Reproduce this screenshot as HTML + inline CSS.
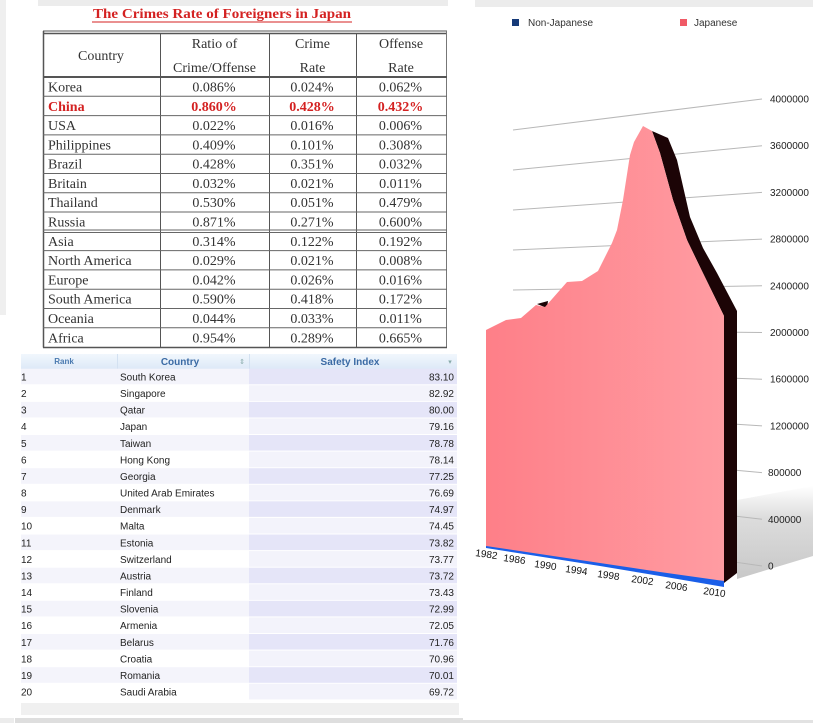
<!DOCTYPE html>
<html>
<head>
<meta charset="utf-8">
<style>
html,body{margin:0;padding:0;background:#fff;}
body{width:823px;height:723px;overflow:hidden;}
svg{display:block;}
.ser{font-family:"Liberation Serif",serif;}
.sans{font-family:"Liberation Sans",sans-serif;}
</style>
</head>
<body>
<svg width="823" height="723" viewBox="0 0 823 723" xmlns="http://www.w3.org/2000/svg">
<defs>
  <linearGradient id="pink" x1="0" y1="0" x2="1" y2="0">
    <stop offset="0" stop-color="#fe7f88"/>
    <stop offset="1" stop-color="#ff9ca2"/>
  </linearGradient>
  <linearGradient id="hdr" x1="0" y1="0" x2="0" y2="1">
    <stop offset="0" stop-color="#f1f7fd"/>
    <stop offset="1" stop-color="#dde9f7"/>
  </linearGradient>
  <linearGradient id="shadow" x1="0" y1="0" x2="0" y2="1">
    <stop offset="0" stop-color="#ffffff"/>
    <stop offset="0.35" stop-color="#dcdcdc"/>
    <stop offset="1" stop-color="#c8c8c8"/>
  </linearGradient>
</defs>

<!-- background panels -->
<rect x="0" y="0" width="6" height="315" fill="#efefef"/>
<rect x="38" y="0" width="410" height="6" fill="#ececec"/>
<rect x="475" y="0" width="338" height="7" fill="#ececec"/>

<!-- ============ Crime table ============ -->
<g class="ser">
  <text x="222" y="18" text-anchor="middle" font-size="14" font-weight="bold" fill="#d42222" textLength="258" lengthAdjust="spacingAndGlyphs">The Crimes Rate of Foreigners in Japan</text>
  <line x1="92" y1="22" x2="352" y2="22" stroke="#d42222" stroke-width="1"/>

  <!-- borders -->
  <line x1="43" y1="31" x2="447" y2="31" stroke="#555" stroke-width="1"/>
  <line x1="43" y1="33.5" x2="447" y2="33.5" stroke="#555" stroke-width="1.5"/>
  <line x1="43.5" y1="31" x2="43.5" y2="347.5" stroke="#555" stroke-width="1.5"/>
  <line x1="446.5" y1="31" x2="446.5" y2="347.5" stroke="#777" stroke-width="1"/>
  <line x1="43" y1="347.5" x2="447" y2="347.5" stroke="#555" stroke-width="1.5"/>
  <line x1="160.5" y1="33" x2="160.5" y2="347" stroke="#555" stroke-width="1"/>
  <line x1="269.5" y1="33" x2="269.5" y2="347" stroke="#555" stroke-width="1"/>
  <line x1="356.5" y1="33" x2="356.5" y2="347" stroke="#555" stroke-width="1"/>
  <line x1="43" y1="77" x2="447" y2="77" stroke="#555" stroke-width="2"/>
  <g stroke="#666" stroke-width="1">
    <line x1="43" y1="96.3" x2="447" y2="96.3"/>
    <line x1="43" y1="115.6" x2="447" y2="115.6"/>
    <line x1="43" y1="134.9" x2="447" y2="134.9"/>
    <line x1="43" y1="154.2" x2="447" y2="154.2"/>
    <line x1="43" y1="173.5" x2="447" y2="173.5"/>
    <line x1="43" y1="192.7" x2="447" y2="192.7"/>
    <line x1="43" y1="212.0" x2="447" y2="212.0"/>
    <line x1="43" y1="230.0" x2="447" y2="230.0"/>
    <line x1="43" y1="232.5" x2="447" y2="232.5"/>
    <line x1="43" y1="250.6" x2="447" y2="250.6"/>
    <line x1="43" y1="269.9" x2="447" y2="269.9"/>
    <line x1="43" y1="289.2" x2="447" y2="289.2"/>
    <line x1="43" y1="308.5" x2="447" y2="308.5"/>
    <line x1="43" y1="327.8" x2="447" y2="327.8"/>
  </g>

  <!-- header -->
  <g font-size="14" fill="#333" text-anchor="middle">
    <text x="101" y="60">Country</text>
    <text x="214.5" y="48">Ratio of</text>
    <text x="214.5" y="72">Crime/Offense</text>
    <text x="312.5" y="48">Crime</text>
    <text x="312.5" y="72">Rate</text>
    <text x="401" y="48">Offense</text>
    <text x="401" y="72">Rate</text>
  </g>

  <!-- rows -->
  <g font-size="14" fill="#333">
    <text x="48" y="91.5">Korea</text>
    <text x="48" y="110.8" fill="#d42222" font-weight="bold">China</text>
    <text x="48" y="130.1">USA</text>
    <text x="48" y="149.4">Philippines</text>
    <text x="48" y="168.7">Brazil</text>
    <text x="48" y="188.0">Britain</text>
    <text x="48" y="207.2">Thailand</text>
    <text x="48" y="226.5">Russia</text>
    <text x="48" y="245.8">Asia</text>
    <text x="48" y="265.1">North America</text>
    <text x="48" y="284.4">Europe</text>
    <text x="48" y="303.7">South America</text>
    <text x="48" y="323.0">Oceania</text>
    <text x="48" y="342.3">Africa</text>
  </g>
  <g font-size="14" fill="#333" text-anchor="middle">
    <text x="214" y="91.5">0.086%</text><text x="312" y="91.5">0.024%</text><text x="400.5" y="91.5">0.062%</text>
    <g fill="#d42222" font-weight="bold">
    <text x="214" y="110.8">0.860%</text><text x="312" y="110.8">0.428%</text><text x="400.5" y="110.8">0.432%</text>
    </g>
    <text x="214" y="130.1">0.022%</text><text x="312" y="130.1">0.016%</text><text x="400.5" y="130.1">0.006%</text>
    <text x="214" y="149.4">0.409%</text><text x="312" y="149.4">0.101%</text><text x="400.5" y="149.4">0.308%</text>
    <text x="214" y="168.7">0.428%</text><text x="312" y="168.7">0.351%</text><text x="400.5" y="168.7">0.032%</text>
    <text x="214" y="188.0">0.032%</text><text x="312" y="188.0">0.021%</text><text x="400.5" y="188.0">0.011%</text>
    <text x="214" y="207.2">0.530%</text><text x="312" y="207.2">0.051%</text><text x="400.5" y="207.2">0.479%</text>
    <text x="214" y="226.5">0.871%</text><text x="312" y="226.5">0.271%</text><text x="400.5" y="226.5">0.600%</text>
    <text x="214" y="245.8">0.314%</text><text x="312" y="245.8">0.122%</text><text x="400.5" y="245.8">0.192%</text>
    <text x="214" y="265.1">0.029%</text><text x="312" y="265.1">0.021%</text><text x="400.5" y="265.1">0.008%</text>
    <text x="214" y="284.4">0.042%</text><text x="312" y="284.4">0.026%</text><text x="400.5" y="284.4">0.016%</text>
    <text x="214" y="303.7">0.590%</text><text x="312" y="303.7">0.418%</text><text x="400.5" y="303.7">0.172%</text>
    <text x="214" y="323.0">0.044%</text><text x="312" y="323.0">0.033%</text><text x="400.5" y="323.0">0.011%</text>
    <text x="214" y="342.3">0.954%</text><text x="312" y="342.3">0.289%</text><text x="400.5" y="342.3">0.665%</text>
  </g>
</g>

<!-- ============ Safety table ============ -->
<g class="sans">
  <rect x="21" y="354" width="436" height="15" fill="url(#hdr)"/>
  <line x1="117.5" y1="354" x2="117.5" y2="369" stroke="#d3e1f1"/>
  <line x1="249.5" y1="354" x2="249.5" y2="369" stroke="#d3e1f1"/>
  <text x="64" y="364" text-anchor="middle" font-size="8" font-weight="bold" fill="#4a7ab0">Rank</text>
  <text x="180" y="365" text-anchor="middle" font-size="10" font-weight="bold" fill="#3a6aa4">Country</text>
  <text x="242" y="364" text-anchor="middle" font-size="7" fill="#8aa">&#8661;</text>
  <text x="350" y="365" text-anchor="middle" font-size="10" font-weight="bold" fill="#3a6aa4">Safety Index</text>
  <text x="450" y="364" text-anchor="middle" font-size="7" fill="#8aa">&#9662;</text>

  <!-- row backgrounds -->
  <g>
    <rect x="21" y="368.7" width="228" height="15.6" fill="#f4f4fb"/><rect x="249" y="368.7" width="208" height="15.6" fill="#e5e5f8"/>
    <rect x="249" y="385.3" width="208" height="15.6" fill="#f3f3fb"/>
    <rect x="21" y="401.9" width="228" height="15.6" fill="#f4f4fb"/><rect x="249" y="401.9" width="208" height="15.6" fill="#e5e5f8"/>
    <rect x="249" y="418.4" width="208" height="15.6" fill="#f3f3fb"/>
    <rect x="21" y="435.0" width="228" height="15.6" fill="#f4f4fb"/><rect x="249" y="435.0" width="208" height="15.6" fill="#e5e5f8"/>
    <rect x="249" y="451.6" width="208" height="15.6" fill="#f3f3fb"/>
    <rect x="21" y="468.2" width="228" height="15.6" fill="#f4f4fb"/><rect x="249" y="468.2" width="208" height="15.6" fill="#e5e5f8"/>
    <rect x="249" y="484.8" width="208" height="15.6" fill="#f3f3fb"/>
    <rect x="21" y="501.3" width="228" height="15.6" fill="#f4f4fb"/><rect x="249" y="501.3" width="208" height="15.6" fill="#e5e5f8"/>
    <rect x="249" y="517.9" width="208" height="15.6" fill="#f3f3fb"/>
    <rect x="21" y="534.5" width="228" height="15.6" fill="#f4f4fb"/><rect x="249" y="534.5" width="208" height="15.6" fill="#e5e5f8"/>
    <rect x="249" y="551.1" width="208" height="15.6" fill="#f3f3fb"/>
    <rect x="21" y="567.7" width="228" height="15.6" fill="#f4f4fb"/><rect x="249" y="567.7" width="208" height="15.6" fill="#e5e5f8"/>
    <rect x="249" y="584.3" width="208" height="15.6" fill="#f3f3fb"/>
    <rect x="21" y="600.8" width="228" height="15.6" fill="#f4f4fb"/><rect x="249" y="600.8" width="208" height="15.6" fill="#e5e5f8"/>
    <rect x="249" y="617.4" width="208" height="15.6" fill="#f3f3fb"/>
    <rect x="21" y="634.0" width="228" height="15.6" fill="#f4f4fb"/><rect x="249" y="634.0" width="208" height="15.6" fill="#e5e5f8"/>
    <rect x="249" y="650.6" width="208" height="15.6" fill="#f3f3fb"/>
    <rect x="21" y="667.2" width="228" height="15.6" fill="#f4f4fb"/><rect x="249" y="667.2" width="208" height="15.6" fill="#e5e5f8"/>
    <rect x="249" y="683.8" width="208" height="15.6" fill="#f3f3fb"/>
  </g>

  <g font-size="10" fill="#222">
    <text x="21" y="380.5">1</text><text x="120" y="380.5">South Korea</text><text x="454" y="380.5" text-anchor="end">83.10</text>
    <text x="21" y="397.1">2</text><text x="120" y="397.1">Singapore</text><text x="454" y="397.1" text-anchor="end">82.92</text>
    <text x="21" y="413.7">3</text><text x="120" y="413.7">Qatar</text><text x="454" y="413.7" text-anchor="end">80.00</text>
    <text x="21" y="430.2">4</text><text x="120" y="430.2">Japan</text><text x="454" y="430.2" text-anchor="end">79.16</text>
    <text x="21" y="446.8">5</text><text x="120" y="446.8">Taiwan</text><text x="454" y="446.8" text-anchor="end">78.78</text>
    <text x="21" y="463.4">6</text><text x="120" y="463.4">Hong Kong</text><text x="454" y="463.4" text-anchor="end">78.14</text>
    <text x="21" y="480.0">7</text><text x="120" y="480.0">Georgia</text><text x="454" y="480.0" text-anchor="end">77.25</text>
    <text x="21" y="496.6">8</text><text x="120" y="496.6">United Arab Emirates</text><text x="454" y="496.6" text-anchor="end">76.69</text>
    <text x="21" y="513.1">9</text><text x="120" y="513.1">Denmark</text><text x="454" y="513.1" text-anchor="end">74.97</text>
    <text x="21" y="529.7">10</text><text x="120" y="529.7">Malta</text><text x="454" y="529.7" text-anchor="end">74.45</text>
    <text x="21" y="546.3">11</text><text x="120" y="546.3">Estonia</text><text x="454" y="546.3" text-anchor="end">73.82</text>
    <text x="21" y="562.9">12</text><text x="120" y="562.9">Switzerland</text><text x="454" y="562.9" text-anchor="end">73.77</text>
    <text x="21" y="579.5">13</text><text x="120" y="579.5">Austria</text><text x="454" y="579.5" text-anchor="end">73.72</text>
    <text x="21" y="596.1">14</text><text x="120" y="596.1">Finland</text><text x="454" y="596.1" text-anchor="end">73.43</text>
    <text x="21" y="612.6">15</text><text x="120" y="612.6">Slovenia</text><text x="454" y="612.6" text-anchor="end">72.99</text>
    <text x="21" y="629.2">16</text><text x="120" y="629.2">Armenia</text><text x="454" y="629.2" text-anchor="end">72.05</text>
    <text x="21" y="645.8">17</text><text x="120" y="645.8">Belarus</text><text x="454" y="645.8" text-anchor="end">71.76</text>
    <text x="21" y="662.4">18</text><text x="120" y="662.4">Croatia</text><text x="454" y="662.4" text-anchor="end">70.96</text>
    <text x="21" y="679.0">19</text><text x="120" y="679.0">Romania</text><text x="454" y="679.0" text-anchor="end">70.01</text>
    <text x="21" y="695.6">20</text><text x="120" y="695.6">Saudi Arabia</text><text x="454" y="695.6" text-anchor="end">69.72</text>
  </g>
  <rect x="21" y="703" width="438" height="12" fill="#f0f0f0"/>
  <rect x="15" y="718" width="448" height="5" fill="#dedede"/>
  <rect x="0" y="718" width="14" height="5" fill="#ececec"/>
</g>

<!-- ============ 3D area chart ============ -->
<g class="sans">
  <!-- legend -->
  <rect x="512" y="19" width="7" height="7" fill="#163a78"/>
  <text x="528" y="26" font-size="10" fill="#333">Non-Japanese</text>
  <rect x="680" y="19" width="7" height="7" fill="#f05a66"/>
  <text x="694" y="26" font-size="10" fill="#333">Japanese</text>

  <!-- floor shadow -->
  <polygon points="737,500 813,486 813,556 737,579" fill="url(#shadow)"/>

  <!-- gridlines -->
  <g stroke="#b8b8b8" stroke-width="1">
    <line x1="513" y1="130" x2="762" y2="99"/>
    <line x1="513" y1="170" x2="762" y2="145.7"/>
    <line x1="513" y1="210" x2="762" y2="192.4"/>
    <line x1="513" y1="250" x2="762" y2="239.1"/>
    <line x1="513" y1="290" x2="762" y2="285.8"/>
    <line x1="513" y1="330" x2="762" y2="332.5"/>
    <line x1="513" y1="370" x2="762" y2="379.2"/>
    <line x1="513" y1="410" x2="762" y2="425.9"/>
    <line x1="513" y1="450" x2="762" y2="472.6"/>
    <line x1="513" y1="490" x2="762" y2="519.3"/>
    <line x1="513" y1="530" x2="762" y2="566"/>
  </g>

  <!-- y labels -->
  <g font-size="10" fill="#222">
    <text x="770" y="102.5">4000000</text>
    <text x="770" y="149.2">3600000</text>
    <text x="770" y="195.9">3200000</text>
    <text x="770" y="242.6">2800000</text>
    <text x="770" y="289.3">2400000</text>
    <text x="770" y="336">2000000</text>
    <text x="770" y="382.7">1600000</text>
    <text x="770" y="429.4">1200000</text>
    <text x="768" y="476.1">800000</text>
    <text x="768" y="522.8">400000</text>
    <text x="768" y="569.5">0</text>
  </g>

  <!-- dark side face -->
  <polygon points="652,131 668,138 677,160 690,217 703,248 717,273 737,311 737,573 724,583 724,316 700,267 687,240 673,200 660,153" fill="#1c0406"/>
  <polygon points="537,304 548,301 547,308" fill="#1c0406"/>

  <!-- pink front face -->
  <polygon points="486,330 506,320 521,318 536,305 545,307 567,282 582,281 598,271 606,255 612,243 617,230 623,200 630,155 634,142 643,126 652,131 660,153 673,200 687,240 700,267 724,316 724,583 486,547" fill="url(#pink)"/>

  <!-- blue non-Japanese sliver -->
  <polygon points="486,546 600,563 660,572 724,581 724,587 660,576 600,566 486,548" fill="#1a5ee8"/>

  <!-- x labels -->
  <g font-size="10" fill="#111">
    <text transform="translate(475,556) rotate(8)">1982</text>
    <text transform="translate(503,561) rotate(8)">1986</text>
    <text transform="translate(534,567) rotate(8)">1990</text>
    <text transform="translate(565,572) rotate(8)">1994</text>
    <text transform="translate(597,577) rotate(8)">1998</text>
    <text transform="translate(631,582) rotate(8)">2002</text>
    <text transform="translate(665,588) rotate(8)">2006</text>
    <text transform="translate(703,594) rotate(8)">2010</text>
  </g>

  <rect x="460" y="720" width="353" height="3" fill="#e2e2e2"/>
</g>
</svg>
</body>
</html>
